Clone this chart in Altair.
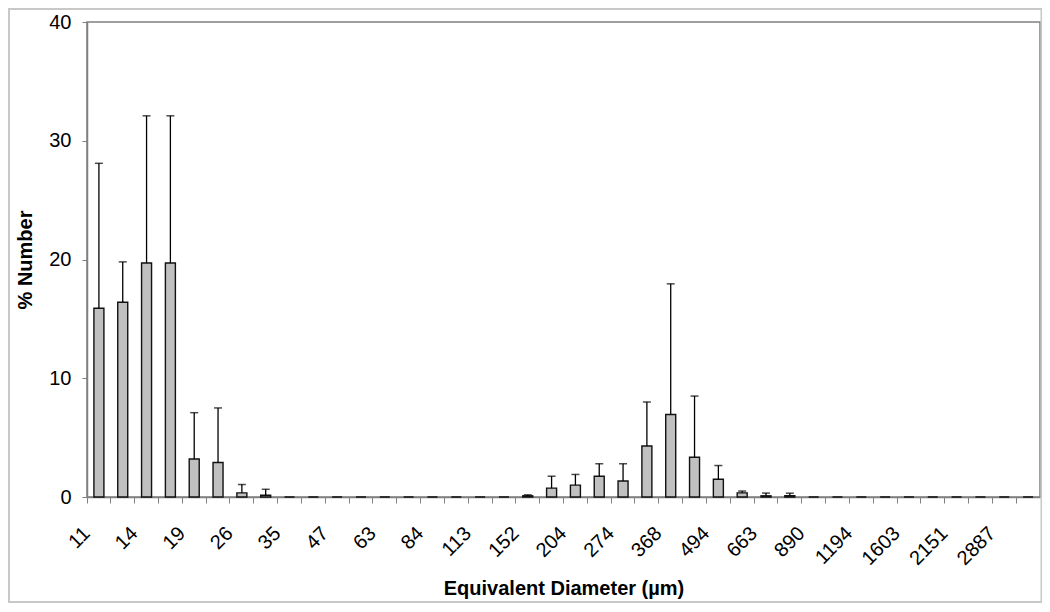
import altair as alt
import pandas as pd

# Size classes (µm) - every other one is labelled on the axis
sizes = ["11", "12", "14", "16", "19", "22", "26", "30", "35", "41",
         "47", "54", "63", "73", "84", "97", "113", "131", "152", "176",
         "204", "236", "274", "318", "368", "427", "494", "573", "663", "769",
         "890", "1031", "1194", "1383", "1603", "1857", "2151", "2492", "2887", "3344"]

# Mean % number per class
means = [15.9, 16.4, 19.7, 19.7, 3.2, 2.9, 0.35, 0.15, 0, 0,
         0, 0, 0, 0, 0, 0, 0, 0, 0.1, 0.75,
         1.0, 1.75, 1.35, 4.3, 6.95, 3.35, 1.5, 0.35, 0.1, 0.12,
         0, 0, 0, 0, 0, 0, 0, 0, 0, 0]

# Upper error (standard deviation) per class
errors = [12.2, 3.4, 12.4, 12.4, 3.9, 4.6, 0.7, 0.5, 0, 0,
          0, 0, 0, 0, 0, 0, 0, 0, 0.08, 1.0,
          0.9, 1.05, 1.45, 3.7, 11.0, 5.15, 1.15, 0.15, 0.23, 0.2,
          0, 0, 0, 0, 0, 0, 0, 0, 0, 0]

shown_labels = sizes[::2]
y_ticks = [0, 10, 20, 30, 40]

df = pd.DataFrame({"size": sizes, "mean": means, "err": errors})
df["upper"] = df["mean"] + df["err"]

FONT = "Liberation Sans"
W, H = 953, 475

label_list = ",".join("'" + s + "'" for s in shown_labels)
label_expr = f"indexof([{label_list}], datum.label) >= 0 ? datum.label : ''"

x_enc = alt.X(
    "size:N",
    sort=sizes,
    scale=alt.Scale(paddingInner=0, paddingOuter=0),
    axis=alt.Axis(
        title="Equivalent Diameter (µm)",
        labelAngle=315,
        labelAlign="right",
        labelBaseline="middle",
        labelExpr=label_expr,
        labelOverlap=False,
        labelBound=False,
        labelFlush=False,
        bandPosition=0,
        labelPadding=27,
        labelOffset=-12,
        labelFontSize=20,
        labelFont=FONT,
        labelColor="black",
        tickSize=6,
        tickColor="#808080",
        domainColor="#808080",
        domainWidth=1.5,
        titleFont=FONT,
        titleFontSize=20,
        titleFontWeight="bold",
        titleColor="black",
        titleX=W / 2,
        titleY=91,
        titleBaseline="middle",
        titleAlign="center",
    ),
)

y_scale = alt.Scale(domain=[0, 40], nice=False)
y_axis = alt.Axis(
    title="% Number",
    values=y_ticks,
    grid=False,
    tickSize=5,
    tickColor="#808080",
    domainColor="#808080",
    domainWidth=1.5,
    labelFontSize=20,
    labelFont=FONT,
    labelColor="black",
    labelPadding=11,
    titleFont=FONT,
    titleFontSize=20,
    titleFontWeight="bold",
    titleColor="black",
    titleAngle=270,
    titleX=-62,
    titleY=H / 2,
    titleAlign="center",
    titleBaseline="middle",
)

base = alt.Chart(df)

bars = base.mark_bar(size=10, fill="#C0C0C0", stroke="#111111", strokeWidth=1.4).encode(
    x=x_enc,
    y=alt.Y("mean:Q", scale=y_scale, axis=y_axis),
)

err_rule = base.transform_filter("datum.err > 0").mark_rule(color="black", strokeWidth=1.3).encode(
    x=alt.X("size:N", sort=sizes),
    y=alt.Y("mean:Q"),
    y2="upper:Q",
)

err_cap = base.transform_filter("datum.err > 0").mark_tick(color="black", size=8, thickness=1.5).encode(
    x=alt.X("size:N", sort=sizes),
    y=alt.Y("upper:Q"),
)

frame = alt.Chart(pd.DataFrame({"a": [0]})).mark_rect(
    filled=False, stroke="#c8c8c8", strokeWidth=2
).encode(
    x=alt.value(-78),
    x2=alt.value(W + 1.5),
    y=alt.value(-13),
    y2=alt.value(H + 105),
)

chart = alt.layer(frame, bars, err_rule, err_cap).properties(
    width=W,
    height=H,
    padding={"left": 79, "top": 14, "right": 2, "bottom": 107},
    autosize=alt.AutoSizeParams(type="none"),
    background="white",
).configure_view(
    stroke="#808080",
    strokeWidth=1.5,
)

chart.save("out.html", embed_options={"renderer": "svg", "actions": False})
